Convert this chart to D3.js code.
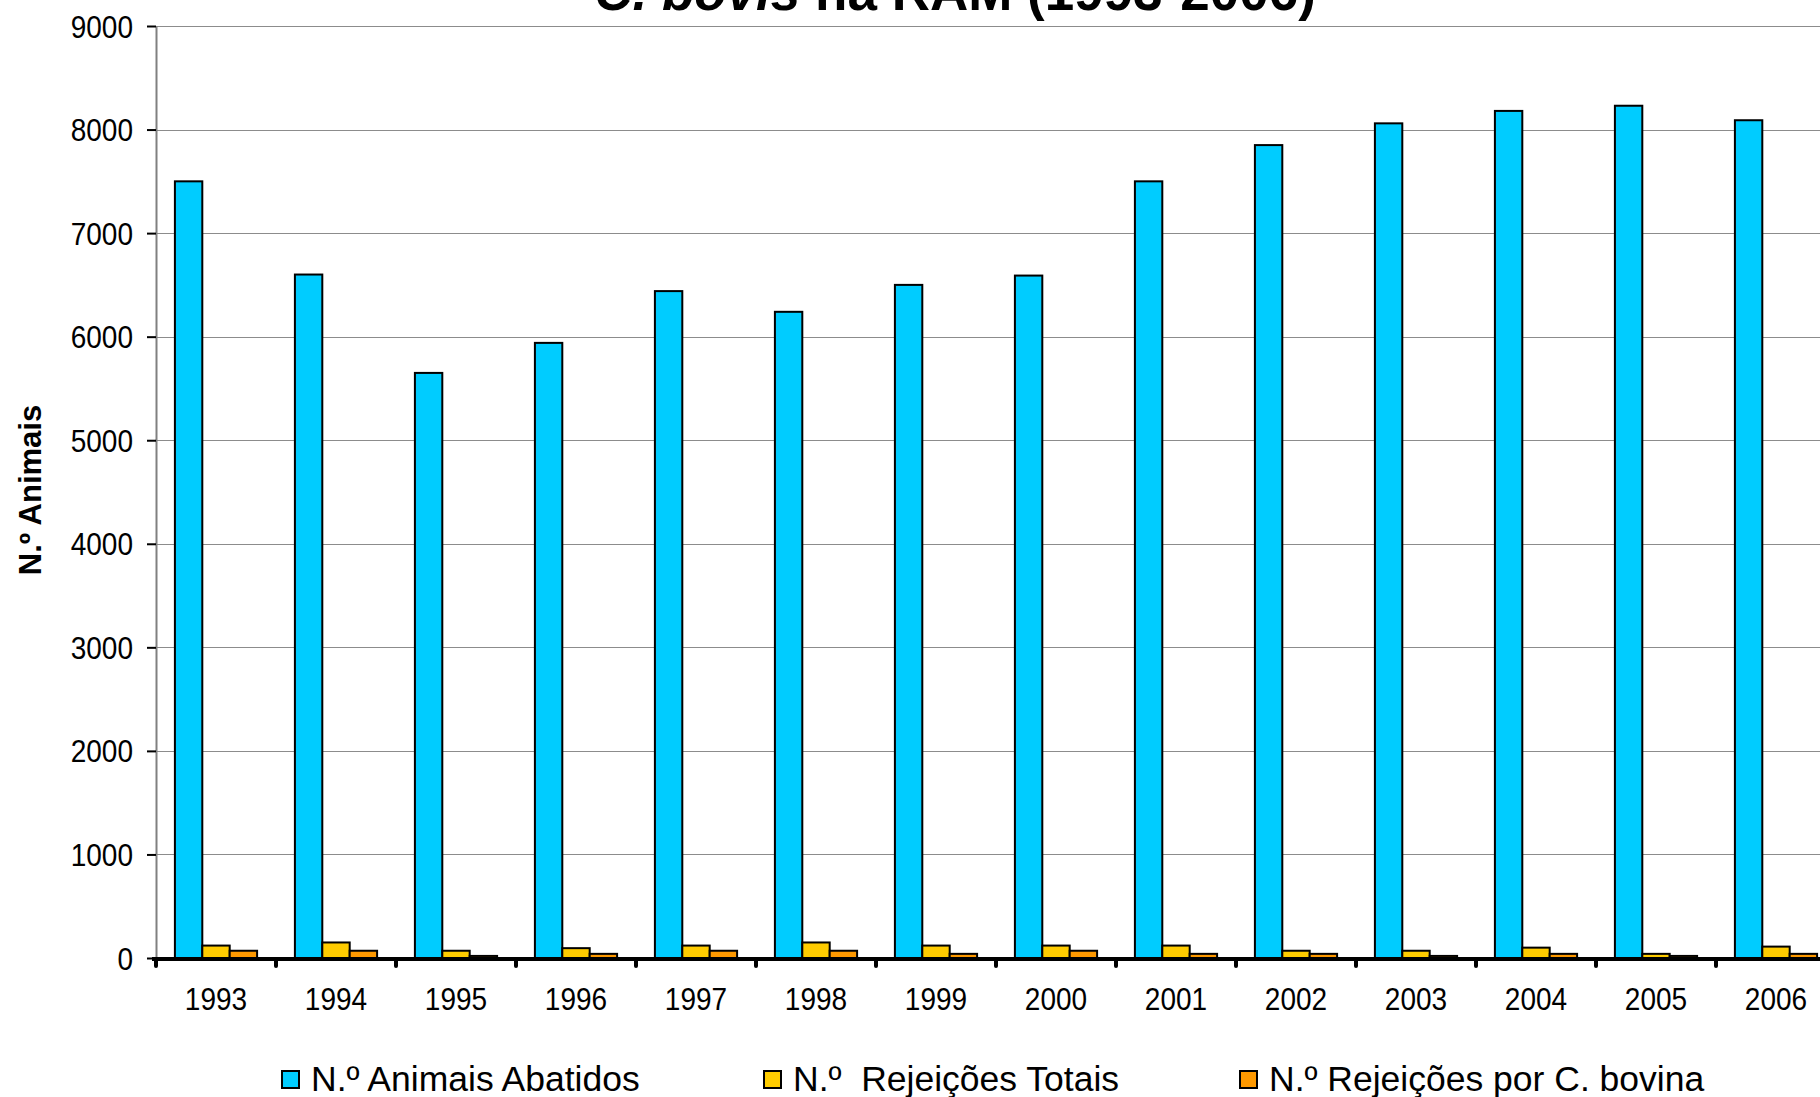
<!DOCTYPE html>
<html>
<head>
<meta charset="utf-8">
<script src="https://cdn.jsdelivr.net/npm/d3@7"></script>
<style>
  html, body { margin: 0; padding: 0; background: #fff; }
  svg { display: block; font-family: "Liberation Sans", Arial, sans-serif; }
</style>
</head>
<body>
<svg id="chart" width="1820" height="1097"></svg>
<script>
// Abates e rejeições por ano
const years = ["1993","1994","1995","1996","1997","1998","1999","2000","2001","2002","2003","2004","2005","2006"];
const abatidos  = [7500, 6600, 5650, 5940, 6440, 6240, 6500, 6590, 7500, 7850, 8060, 8180, 8230, 8090];
const rejTotais = [120, 150, 70, 95, 120, 150, 120, 120, 120, 70, 70, 100, 40, 110];
const rejBovina = [70, 70, 20, 40, 70, 70, 40, 70, 40, 40, 20, 40, 20, 40];
const seriesNames = ["N.º Animais Abatidos", "N.º  Rejeições Totais", "N.º Rejeições por C. bovina"];
const seriesColors = ["#00CCFF", "#FFCC00", "#FF9900"];
const yTicks = [0, 1000, 2000, 3000, 4000, 5000, 6000, 7000, 8000, 9000];

const seriesValues = [abatidos, rejTotais, rejBovina];
const rows = years.map((yr, i) => ({ year: yr, values: seriesValues.map((s, k) => ({ key: k, value: s[i] })) }));

const svg = d3.select("#chart");
const plotLeft = 156, plotTop = 26, plotBottom = 958, step = 120;
const stretch = 1.13; // tall, narrow lettering

const x = d3.scaleBand().domain(years).range([plotLeft, plotLeft + step * years.length]).paddingInner(0).paddingOuter(0);
const x1 = d3.scaleBand().domain(d3.range(seriesNames.length)).range([0, x.bandwidth()]).paddingInner(0).paddingOuter(0.69);
const y = d3.scaleLinear().domain([0, 9000]).range([plotBottom, plotTop]);

// grid lines
svg.append("g").selectAll("line").data(yTicks.filter(t => t > 0)).join("line")
  .attr("x1", plotLeft).attr("x2", 1820)
  .attr("y1", d => Math.round(y(d)) + 0.5).attr("y2", d => Math.round(y(d)) + 0.5)
  .attr("stroke", "#8c8c8c").attr("stroke-width", 1);

// y axis
const yAxis = svg.append("g").attr("transform", `translate(${plotLeft},0)`)
  .call(d3.axisLeft(y).tickValues(yTicks).tickSize(9).tickPadding(14).tickFormat(d3.format("d")));
yAxis.select(".domain").attr("stroke", "#808080").attr("stroke-width", 2).attr("d", `M0.5,${plotTop}V${plotBottom}`);
yAxis.selectAll(".tick line").attr("stroke", "#000").attr("stroke-width", 2);
yAxis.selectAll(".tick text").attr("font-size", 28).attr("fill", "#000")
  .attr("font-family", "'Liberation Sans', Arial, sans-serif")
  .attr("dy", "0.35em")
  .attr("transform", `scale(1,${stretch})`);

// bars
const groups = svg.append("g").selectAll("g").data(rows).join("g")
  .attr("transform", d => `translate(${x(d.year)},0)`);
groups.selectAll("rect").data(d => d.values).join("rect")
  .attr("x", d => x1(d.key))
  .attr("width", x1.bandwidth())
  .attr("y", d => y(d.value))
  .attr("height", d => plotBottom - y(d.value))
  .attr("fill", d => seriesColors[d.key])
  .attr("stroke", "#000").attr("stroke-width", 2);

// x axis
const xAxis = svg.append("g").attr("transform", `translate(0,${plotBottom + 1})`)
  .call(d3.axisBottom(x).tickSize(0));
xAxis.select(".domain").remove();
xAxis.selectAll(".tick text").attr("font-size", 28).attr("fill", "#000")
  .attr("font-family", "'Liberation Sans', Arial, sans-serif")
  .attr("y", 45).attr("dy", 0)
  .attr("transform", `scale(1,${stretch})`);
svg.append("line").attr("x1", plotLeft - 4).attr("x2", 1820).attr("y1", plotBottom + 1).attr("y2", plotBottom + 1)
  .attr("stroke", "#000").attr("stroke-width", 4);
svg.append("g").selectAll("line").data(years.concat(["end"])).join("line")
  .attr("x1", (d, i) => plotLeft + i * step).attr("x2", (d, i) => plotLeft + i * step)
  .attr("y1", plotBottom + 1).attr("y2", plotBottom + 8)
  .attr("stroke", "#000").attr("stroke-width", 4).attr("stroke-linecap", "round");

// y axis title
svg.append("text").attr("transform", "translate(41,490) rotate(-90)")
  .attr("text-anchor", "middle").attr("font-size", 31).attr("font-weight", "bold")
  .text("N.º Animais");

// title (first line lies above the visible area)
const title = svg.append("text").attr("x", 955).attr("y", 10).attr("text-anchor", "middle")
  .attr("font-size", 53).attr("font-weight", "bold");
title.append("tspan").attr("font-style", "italic").text("C. bovis");
title.append("tspan").text(" na RAM (1993-2006)");

// legend
const legendX = [282, 764, 1240];
const legend = svg.append("g").selectAll("g").data(seriesNames).join("g")
  .attr("transform", (d, i) => `translate(${legendX[i]},1071)`);
legend.append("rect").attr("width", 17).attr("height", 17)
  .attr("fill", (d, i) => seriesColors[i]).attr("stroke", "#000").attr("stroke-width", 2);
legend.append("text").attr("x", 29).attr("y", 20).attr("font-size", 35.5)
  .style("white-space", "pre").attr("xml:space", "preserve").text(d => d);
</script>
</body>
</html>
